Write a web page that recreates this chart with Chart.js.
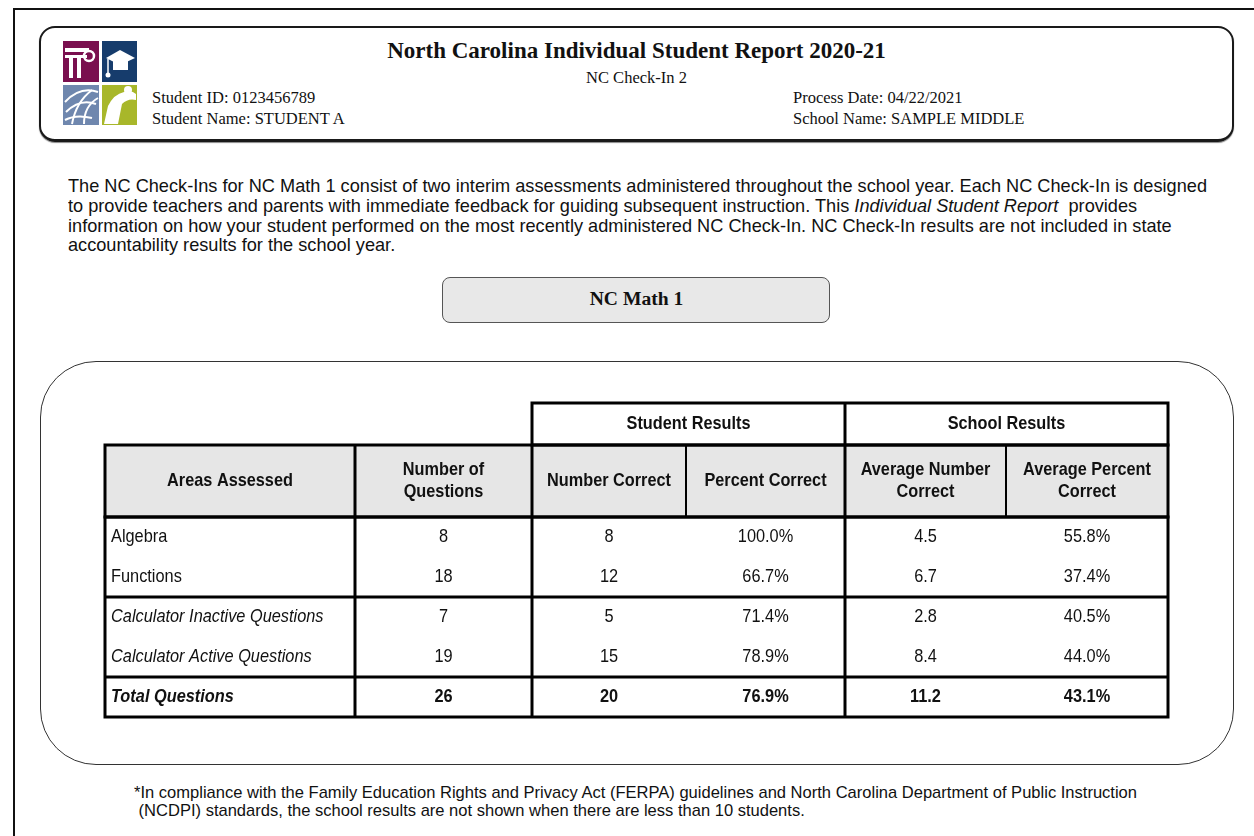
<!DOCTYPE html>
<html>
<head>
<meta charset="utf-8">
<script src="https://cdn.jsdelivr.net/npm/chart.js@4.4.1/dist/chart.umd.min.js"></script>
<style>
  html,body{margin:0;padding:0;background:#fff;}
  body{width:1254px;height:836px;position:relative;overflow:hidden;font-family:"Liberation Sans",Arial,sans-serif;color:#111;}
  .abs{position:absolute;white-space:nowrap;}
  .serif{font-family:"Liberation Serif","Times New Roman",serif;}
  .fit{display:inline-block;transform-origin:0 50%;}
</style>
</head>
<body>
<script>
// ---------- DATA ----------
const reportTitle = "North Carolina Individual Student Report 2020-21";
const reportSubtitle = "NC Check-In 2";
const studentId = "0123456789";
const studentName = "STUDENT A";
const processDate = "04/22/2021";
const schoolName = "SAMPLE MIDDLE";
const subjectName = "NC Math 1";

const groupHeaders = ["Student Results", "School Results"];
const columnHeaders = [["Areas Assessed"], ["Number of", "Questions"], ["Number Correct"], ["Percent Correct"], ["Average Number", "Correct"], ["Average Percent", "Correct"]];
const areas = ["Algebra", "Functions", "Calculator Inactive Questions", "Calculator Active Questions", "Total Questions"];
const numberOfQuestions = [8, 18, 7, 19, 26];
const numberCorrect = [8, 12, 5, 15, 20];
const percentCorrect = [100.0, 66.7, 71.4, 78.9, 76.9];
const avgNumberCorrect = [4.5, 6.7, 2.8, 8.4, 11.2];
const avgPercentCorrect = [55.8, 37.4, 40.5, 44.0, 43.1];
</script>

<!-- page frame lines -->
<div class="abs" style="left:13px;top:8px;width:1241px;height:2px;background:#111;"></div>
<div class="abs" style="left:13px;top:8px;width:2px;height:828px;background:#111;"></div>

<!-- header box -->
<div class="abs" style="left:39px;top:26px;width:1191px;height:111px;border:2px solid #1a1a1a;border-bottom-width:3px;border-radius:16px;box-shadow:0 1px 1px #888;"></div>

<!-- logo -->
<svg class="abs" style="left:62px;top:40px;" width="76" height="86" viewBox="0 0 76 86">
  <rect x="1" y="1" width="36" height="41" fill="#7a0f4f"/>
  <rect x="40" y="1" width="35" height="41" fill="#163c6c"/>
  <rect x="1" y="45" width="36" height="40" fill="#6f87ae"/>
  <rect x="40" y="45" width="35" height="40" fill="#a8b72a"/>
  <rect x="3" y="8" width="24" height="4" fill="#fff"/>
  <rect x="3" y="15" width="22" height="3" fill="#fff"/>
  <rect x="7" y="18" width="4" height="20" fill="#fff"/>
  <rect x="15" y="18" width="4" height="20" fill="#fff"/>
  <circle cx="27" cy="16" r="5" fill="none" stroke="#fff" stroke-width="2.5"/>
  <polygon points="44,18 58,10 73,18 58,25" fill="#fff"/>
  <rect x="51" y="21" width="15" height="9" fill="#fff"/>
  <line x1="46" y1="19" x2="46" y2="33" stroke="#fff" stroke-width="1.5"/>
  <circle cx="46" cy="35" r="2.5" fill="#fff"/>
  <g fill="none" stroke="#fff" stroke-width="2">
    <path d="M3,62 Q18,46 36,52"/>
    <path d="M4,72 Q18,58 34,64"/>
    <path d="M10,84 Q14,62 30,50"/>
    <path d="M22,84 Q22,66 36,58"/>
    <path d="M3,80 Q14,74 30,78"/>
  </g>
  <path d="M42,84 L46,66 Q52,54 62,52 Q70,50 74,54 L74,60 Q66,58 60,64 L56,84 Z" fill="#fff"/>
  <circle cx="66" cy="50" r="4" fill="#fff"/>
</svg>

<div class="abs serif" id="title" style="left:0;width:1273px;top:37px;text-align:center;font-weight:bold;font-size:23px;line-height:28px;"></div>
<div class="abs serif" id="subtitle" style="left:0;width:1273px;top:69px;text-align:center;font-size:16.5px;line-height:18px;"></div>
<div class="abs serif" id="sid" style="left:152px;top:89px;font-size:16.5px;line-height:18px;"></div>
<div class="abs serif" id="sname" style="left:152px;top:110px;font-size:16.5px;line-height:18px;"></div>
<div class="abs serif" id="pdate" style="left:793px;top:89px;font-size:16.5px;line-height:18px;"></div>
<div class="abs serif" id="school" style="left:793px;top:110px;font-size:16.5px;line-height:18px;"></div>

<!-- paragraph -->
<div class="abs" style="left:68px;top:176px;font-size:19px;line-height:19.8px;color:#111;">
  <span class="fit p" data-w="1139">The NC Check-Ins for NC Math 1 consist of two interim assessments administered throughout the school year. Each NC Check-In is designed</span><br>
  <span class="fit p2">to provide teachers and parents with immediate feedback for guiding subsequent instruction. This <i>Individual Student Report</i>&nbsp; provides</span><br>
  <span class="fit p2">information on how your student performed on the most recently administered NC Check-In. NC Check-In results are not included in state</span><br>
  <span class="fit p2">accountability results for the school year.</span>
</div>

<!-- subject box -->
<div class="abs" style="left:442px;top:277px;width:386px;height:44px;border:1.5px solid #555;border-radius:8px;background:#e8e8e8;"></div>
<div class="abs serif" id="subject" style="left:442px;width:389px;top:287px;text-align:center;font-weight:bold;font-size:19.6px;line-height:24px;"></div>

<!-- table rounded frame -->
<div class="abs" style="left:40px;top:361px;width:1192px;height:402px;border:1.5px solid #333;border-radius:56px;"></div>

<!-- table canvas -->
<canvas id="tbl" class="abs" width="1073" height="324" style="left:100px;top:398px;width:1073px;height:324px;"></canvas>

<!-- footnote -->
<div class="abs" style="left:134px;top:784px;font-size:17px;line-height:18px;color:#111;">
  <span class="fit f" data-w="1003">*In compliance with the Family Education Rights and Privacy Act (FERPA) guidelines and North Carolina Department of Public Instruction</span><br>
  <span class="fit f2">&nbsp;(NCDPI) standards, the school results are not shown when there are less than 10 students.</span>
</div>

<script>
document.getElementById('title').textContent = reportTitle;
document.getElementById('subtitle').textContent = reportSubtitle;
document.getElementById('sid').textContent = "Student ID: " + studentId;
document.getElementById('sname').textContent = "Student Name: " + studentName;
document.getElementById('pdate').textContent = "Process Date: " + processDate;
document.getElementById('school').textContent = "School Name: " + schoolName;
document.getElementById('subject').textContent = subjectName;

function fitGroup(mainSel, restSel){
  const m = document.querySelector(mainSel);
  const s = parseFloat(m.dataset.w) / m.getBoundingClientRect().width;
  m.style.transform = 'scaleX(' + s + ')';
  document.querySelectorAll(restSel).forEach(e => e.style.transform = 'scaleX(' + s + ')');
}
fitGroup('.p', '.p2');
fitGroup('.f', '.f2');

// ---------- TABLE via Chart.js ----------
const colWidths = [250, 177, 154, 159, 161, 162];
const groupRowH = 42, headRowH = 72, bodyRowH = 40;
const colEdges = [0];
colWidths.forEach(w => colEdges.push(colEdges[colEdges.length - 1] + w));
const totalW = colEdges[colEdges.length - 1];
const bodyTop = groupRowH + headRowH;
const totalH = bodyTop + bodyRowH * areas.length;
const sectionBreaks = [2, 4];
const FAM = '"Liberation Sans", Arial, sans-serif';

const tablePlugin = {
  id: 'reportTable',
  afterDraw(chart) {
    const ctx = chart.ctx;
    const xs = chart.scales.x, ys = chart.scales.y;
    const X = v => xs.getPixelForValue(v);
    const Y = v => ys.getPixelForValue(v);
    const cx = i => (X(colEdges[i]) + X(colEdges[i + 1])) / 2;
    const txt = (t, x, yc, align, font, size, sx) => {
      ctx.save();
      ctx.font = font + ' ' + size + 'px ' + FAM;
      ctx.textAlign = align;
      ctx.textBaseline = 'alphabetic';
      ctx.translate(x, yc + size * 0.716 / 2 - 1.5);
      ctx.scale(sx, 1);
      ctx.fillText(t, 0, 0);
      ctx.restore();
    };
    ctx.save();
    ctx.fillStyle = '#e6e6e6';
    ctx.fillRect(X(0), Y(groupRowH), X(totalW) - X(0), Y(bodyTop) - Y(groupRowH));

    const line = (x1, y1, x2, y2, w) => {
      ctx.beginPath(); ctx.lineWidth = w; ctx.strokeStyle = '#000';
      ctx.moveTo(X(x1), Y(y1)); ctx.lineTo(X(x2), Y(y2)); ctx.stroke();
    };
    const rect = (x1, y1, x2, y2, w) => {
      ctx.lineWidth = w; ctx.strokeStyle = '#000';
      ctx.strokeRect(X(x1), Y(y1), X(x2) - X(x1), Y(y2) - Y(y1));
    };
    rect(colEdges[2], 0, totalW, groupRowH, 3);
    line(colEdges[4], 0, colEdges[4], groupRowH, 3);
    rect(0, groupRowH, totalW, bodyTop, 3);
    [1, 2, 4].forEach(i => line(colEdges[i], groupRowH, colEdges[i], bodyTop, 3));
    [3, 5].forEach(i => line(colEdges[i], groupRowH, colEdges[i], bodyTop, 2));
    rect(0, bodyTop, totalW, totalH, 3);
    [1, 2, 4].forEach(i => line(colEdges[i], bodyTop, colEdges[i], totalH, 3));
    sectionBreaks.forEach(r => line(0, bodyTop + r * bodyRowH, totalW, bodyTop + r * bodyRowH, 3));

    ctx.fillStyle = '#111';
    const HS = 18.5, HX = 0.88;
    txt(groupHeaders[0], (X(colEdges[2]) + X(colEdges[4])) / 2, Y(groupRowH / 2), 'center', 'bold', HS, HX);
    txt(groupHeaders[1], (X(colEdges[4]) + X(colEdges[6])) / 2, Y(groupRowH / 2), 'center', 'bold', HS, HX);
    columnHeaders.forEach((lines, i) => {
      const mid = groupRowH + headRowH / 2;
      lines.forEach((t, k) => {
        const off = (k - (lines.length - 1) / 2) * 22;
        txt(t, cx(i), Y(mid + off), 'center', 'bold', HS, HX);
      });
    });

    const cols = [
      numberOfQuestions.map(String),
      numberCorrect.map(String),
      percentCorrect.map(v => v.toFixed(1) + '%'),
      avgNumberCorrect.map(v => v.toFixed(1)),
      avgPercentCorrect.map(v => v.toFixed(1) + '%')
    ];
    const DS = 19, DX = 0.86;
    areas.forEach((a, r) => {
      const yc = Y(bodyTop + r * bodyRowH + bodyRowH / 2);
      const isTotal = r === areas.length - 1;
      const isItalic = r >= 2;
      txt(a, X(colEdges[0]) + 6, yc, 'left', (isItalic ? 'italic ' : '') + (isTotal ? 'bold' : 'normal'), DS, DX);
      cols.forEach((c, j) => txt(c[r], cx(j + 1), yc, 'center', isTotal ? 'bold' : 'normal', DS, DX));
    });
    ctx.restore();
  }
};

new Chart(document.getElementById('tbl'), {
  type: 'scatter',
  data: { datasets: [] },
  options: {
    responsive: false,
    animation: false,
    events: [],
    layout: { padding: 0 },
    plugins: { legend: { display: false }, tooltip: { enabled: false } },
    scales: {
      x: { type: 'linear', min: -5, max: totalW + 5, display: false },
      y: { type: 'linear', min: -5, max: totalH + 5, reverse: true, display: false }
    }
  },
  plugins: [tablePlugin]
});
</script>
</body>
</html>
